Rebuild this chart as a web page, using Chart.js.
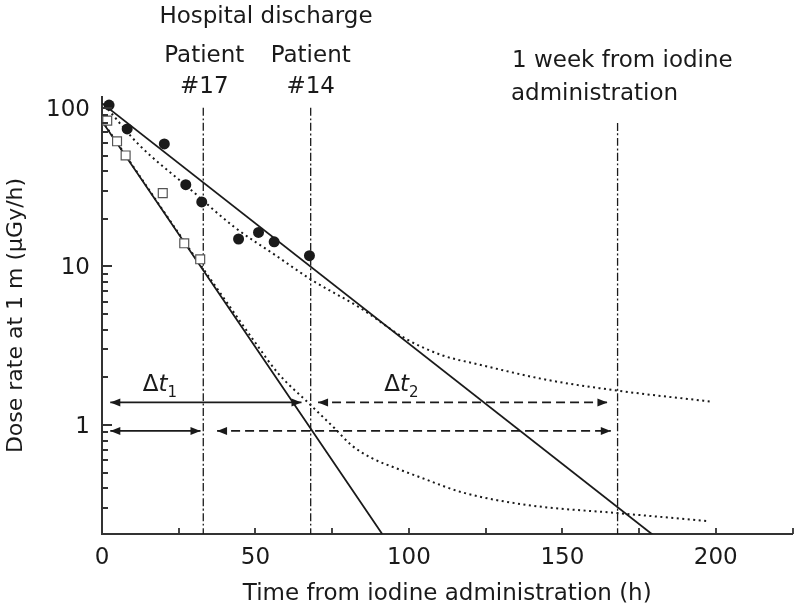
<!DOCTYPE html>
<html>
<head>
<meta charset="utf-8">
<script src="https://cdn.jsdelivr.net/npm/chart.js@4.4.0/dist/chart.umd.min.js"></script>
<style>
html, body { margin: 0; padding: 0; background: #fff; }
#wrap { width: 800px; height: 610px; }
</style>
</head>
<body>
<div id="wrap"><canvas id="chart" width="800" height="610"></canvas></div>
<script>
// measured dose rates (h, uGy/h)
const circleHours = [2.3, 8.2, 20.3, 27.3, 32.5, 44.5, 51, 56.1, 67.6];
const circleRates = [104, 73.6, 59.2, 32.8, 25.5, 14.9, 16.4, 14.3, 11.7];
const squareHours = [1.7, 4.9, 7.7, 19.8, 26.8, 32];
const squareRates = [83, 61.5, 50.1, 29, 14, 11.1];

// mono-exponential fits (solid)
const fitSlowHours = [0, 180];
const fitSlowRates = [107, 0.2];
const fitFastHours = [0, 91.3];
const fitFastRates = [82.4, 0.206];

// bi-exponential fits (dotted)
const biexpSlowHours = [2, 12, 28, 43, 57, 68, 84, 99, 111, 122, 145, 168, 198];
const biexpSlowRates = [97.7, 58.6, 31.6, 17.8, 11.6, 8.3, 5.5, 3.5, 2.75, 2.43, 1.93, 1.65, 1.41];
const biexpFastHours = [0, 10, 20, 30, 40, 50, 57.4, 67.6, 75.8, 81.2, 87.6, 96.3, 103.8, 117.6, 139, 168, 198];
const biexpFastRates = [83, 43.2, 22.4, 11.7, 6.2, 3.3, 2.12, 1.36, 0.955, 0.75, 0.624, 0.531, 0.468, 0.376, 0.313, 0.279, 0.248];

// vertical markers: discharge #17, discharge #14, 1 week
const markerHours = [33, 68, 168];
const markerTops = [101, 101, 82];

// arrows (two rows)
const arrowRates = [1.39, 0.92];
const arrowSolidEnds = [[2.7, 65], [2.7, 32.1]];
const arrowDashedEnds = [[70.4, 164.7], [37.5, 165.8]];

// axis ticks
const xTickValues = [0, 50, 100, 150, 200];
const xTickMarks = [25, 50, 75, 100, 125, 150, 175, 200, 225];
const yTickValues = [1, 10, 100];
const yMinorTicks = [0.3, 0.4, 0.5, 0.6, 0.7, 0.8, 0.9, 2, 3, 4, 5, 6, 7, 8, 9, 20, 30, 40, 50, 60, 70, 80, 90];

const FONT = 'DejaVu Sans';
const INK = '#1a1a1a';

let toXY = (xs, ys) => xs.map((x, i) => ({ x: x, y: ys[i] }));

let lineSet = (data, dash, width) => ({
	data: data,
	showLine: true,
	borderColor: INK,
	borderWidth: width,
	borderDash: dash,
	pointRadius: 0,
	cubicInterpolationMode: 'monotone',
});

let datasets = [
	{
		data: toXY(circleHours, circleRates),
		pointStyle: 'circle',
		pointRadius: 5.5,
		backgroundColor: INK,
		borderWidth: 0,
	},
	{
		data: toXY(squareHours, squareRates),
		pointStyle: 'rect',
		pointRadius: 6.3,
		backgroundColor: '#fff',
		borderColor: '#555',
		borderWidth: 1.2,
	},
	lineSet(toXY(fitSlowHours, fitSlowRates), [], 1.8),
	lineSet(toXY(fitFastHours, fitFastRates), [], 1.8),
	lineSet(toXY(biexpSlowHours, biexpSlowRates), [2, 3.5], 2),
	lineSet(toXY(biexpFastHours, biexpFastRates), [2, 3.5], 2),
];

// arrows
arrowRates.forEach((rate, row) => {
	let solid = lineSet(toXY(arrowSolidEnds[row], [rate, rate]), [], 1.7);
	solid.arrow = true;
	let dashed = lineSet(toXY(arrowDashedEnds[row], [rate, rate]), [9, 5], 1.7);
	dashed.arrow = true;
	datasets.push(solid, dashed);
});

// dash-dot markers
markerHours.forEach((h, i) => {
	datasets.push(lineSet([{ x: h, y: 0.2 }, { x: h, y: markerTops[i] }], [8, 2.5, 2, 2.5], 1.3));
});

// arrowheads at both ends of arrow datasets, plus inward tick marks
let arrowHeads = {
	id: 'arrowHeads',
	afterDatasetsDraw (chart) {
		let { ctx } = chart;
		ctx.save();
		ctx.fillStyle = INK;
		chart.data.datasets.forEach((ds, i) => {
			if (!ds.arrow) { return; }
			let pts = chart.getDatasetMeta(i).data;
			let a = pts[0], b = pts[pts.length - 1];
			[[a, b], [b, a]].forEach(([tip, from]) => {
				let ang = Math.atan2(tip.y - from.y, tip.x - from.x);
				let len = 10, half = 4;
				ctx.beginPath();
				ctx.moveTo(tip.x, tip.y);
				ctx.lineTo(tip.x - len * Math.cos(ang) + half * Math.sin(ang), tip.y - len * Math.sin(ang) - half * Math.cos(ang));
				ctx.lineTo(tip.x - len * Math.cos(ang) - half * Math.sin(ang), tip.y - len * Math.sin(ang) + half * Math.cos(ang));
				ctx.closePath();
				ctx.fill();
			});
		});

		// tick marks point into the plot
		let area = chart.chartArea;
		let xs = chart.scales.x;
		let ys = chart.scales.y;
		ctx.setLineDash([]);
		ctx.strokeStyle = '#333';
		ctx.lineWidth = 1.8;
		ctx.beginPath();
		xTickMarks.forEach(v => {
			let px = Math.round(xs.getPixelForValue(v));
			ctx.moveTo(px, area.bottom);
			ctx.lineTo(px, area.bottom - 6);
		});
		yMinorTicks.forEach(v => {
			let py = Math.round(ys.getPixelForValue(v));
			ctx.moveTo(area.left, py);
			ctx.lineTo(area.left + 6, py);
		});
		yTickValues.forEach(v => {
			let py = Math.round(ys.getPixelForValue(v));
			ctx.moveTo(area.left, py);
			ctx.lineTo(area.left + 10, py);
		});
		ctx.stroke();
		ctx.restore();
	},
};

// annotation texts
let annotations = {
	id: 'annotations',
	afterDraw (chart) {
		let { ctx, scales: { x, y } } = chart;
		ctx.save();
		ctx.fillStyle = INK;
		ctx.textBaseline = 'alphabetic';
		ctx.font = `23px "${FONT}"`;
		ctx.textAlign = 'center';
		ctx.fillText('Hospital discharge', 266, 23);
		let p17 = x.getPixelForValue(markerHours[0]);
		let p14 = x.getPixelForValue(markerHours[1]);
		ctx.fillText('Patient', p17 + 1, 62);
		ctx.fillText('#17', p17 + 1, 93);
		ctx.fillText('Patient', p14, 62);
		ctx.fillText('#14', p14, 93);
		ctx.textAlign = 'left';
		ctx.fillText('1 week from iodine', 512, 67);
		ctx.fillText('administration', 511, 100);

		// delta t labels
		let drawDelta = (hx, sub) => {
			let px = x.getPixelForValue(hx);
			let py = y.getPixelForValue(1.65);
			ctx.font = `23px "${FONT}"`;
			ctx.fillText('\u0394', px, py);
			px += ctx.measureText('\u0394').width;
			ctx.font = `italic 23px "${FONT}"`;
			ctx.fillText('t', px, py);
			px += ctx.measureText('t').width;
			ctx.font = `15px "${FONT}"`;
			ctx.fillText(sub, px, py + 6);
		};
		drawDelta(13.3, '1');
		drawDelta(92, '2');
		ctx.restore();
	},
};

new Chart(document.getElementById('chart'), {
	type: 'scatter',
	data: { datasets: datasets },
	options: {
		responsive: false,
		animation: false,
		layout: { padding: { top: 97, right: 2, left: 0, bottom: 0 } },
		plugins: {
			legend: { display: false },
			tooltip: { enabled: false },
		},
		scales: {
			x: {
				type: 'linear',
				min: 0,
				max: 225,
				afterFit: (scale) => { scale.height = 76; },
				afterBuildTicks: (scale) => { scale.ticks = xTickValues.map(v => ({ value: v })); },
				grid: { display: false, drawTicks: false },
				border: { display: true, color: '#333', width: 2 },
				ticks: {
					color: INK,
					padding: 10,
					maxRotation: 0,
					font: { family: FONT, size: 23 },
				},
				title: {
					display: true,
					text: 'Time from iodine administration (h)',
					color: INK,
					font: { family: FONT, size: 23 },
					padding: { top: 0, bottom: 2 },
				},
			},
			y: {
				type: 'logarithmic',
				min: 0.206,
				max: 117,
				afterFit: (scale) => { scale.width = 102; },
				afterBuildTicks: (scale) => { scale.ticks = yTickValues.map(v => ({ value: v })); },
				grid: { display: false, drawTicks: false },
				border: { display: true, color: '#333', width: 2 },
				ticks: {
					color: INK,
					padding: 12,
					labelOffset: 2,
					font: { family: FONT, size: 23 },
					callback: (v) => String(v),
				},
				title: {
					display: true,
					text: 'Dose rate at 1 m (\u03bcGy/h)',
					color: INK,
					font: { family: FONT, size: 22 },
					padding: { top: 3, bottom: 0 },
				},
			},
		},
	},
	plugins: [ arrowHeads, annotations ],
});
</script>
</body>
</html>
